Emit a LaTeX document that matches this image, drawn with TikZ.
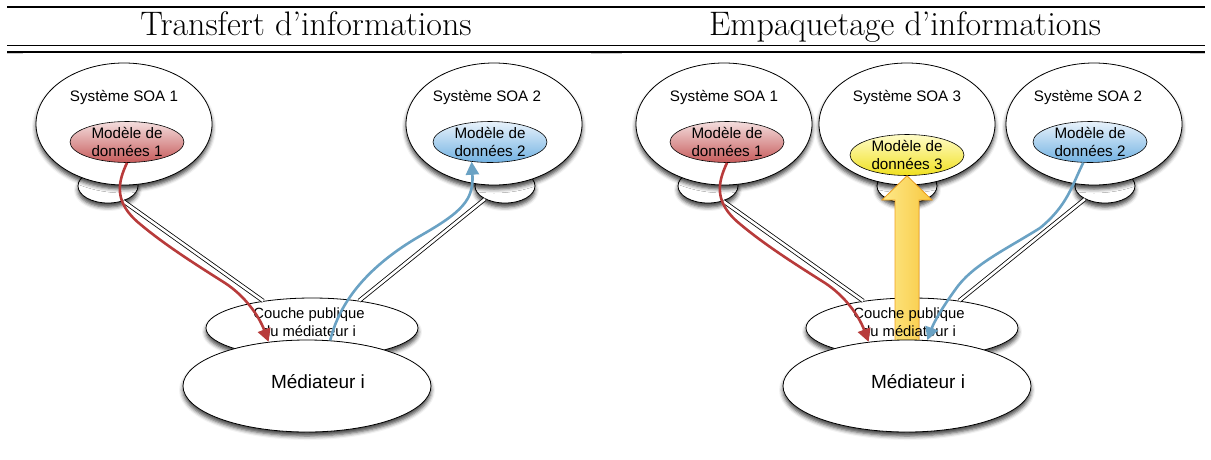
\documentclass[tikz,border=0pt]{standalone}
\usepackage{fontspec}
\newfontfamily\lab{Liberation Sans}
\usetikzlibrary{shapes.geometric,arrows.meta,shadows.blur}
\definecolor{redA}{HTML}{B83B3B}
\definecolor{blueA}{HTML}{6AA2C4}
\definecolor{redTop}{HTML}{F4DEDE}
\definecolor{redBot}{HTML}{C65A5A}
\definecolor{blueTop}{HTML}{E8F2FB}
\definecolor{blueBot}{HTML}{72B2E2}
\definecolor{yelTop}{HTML}{FFFCC8}
\definecolor{yelBot}{HTML}{F0E020}
\definecolor{arrL}{HTML}{FDE98A}
\definecolor{arrR}{HTML}{F8C840}
\definecolor{arrE}{HTML}{EFA020}
\tikzset{
  shd/.style={blur shadow={shadow xshift=0pt, shadow yshift=-4pt, shadow blur radius=4pt, shadow opacity=75}},
  big/.style={ellipse, draw=black, line width=0.8pt, fill=white, minimum width=176pt, minimum height=122pt, inner sep=0pt, shd},
  bump/.style={ellipse, draw=black, line width=0.8pt, fill=white, minimum width=60pt, minimum height=34pt, inner sep=0pt, shd},
  model/.style={ellipse, draw=black, line width=0.6pt, minimum width=114pt, minimum height=41pt, inner sep=0pt, align=center, font=\lab\fontsize{15.2}{17.5}\selectfont},
  redm/.style={model, top color=redTop, bottom color=redBot},
  bluem/.style={model, top color=blueTop, bottom color=blueBot},
  yelm/.style={model, top color=yelTop, bottom color=yelBot},
  title/.style={font=\lab\fontsize{15.2}{17.5}\selectfont, inner sep=0pt},
  couche/.style={ellipse, draw=black, line width=0.8pt, fill=white, minimum width=212pt, minimum height=60pt, inner sep=0pt, shd},
  med/.style={ellipse, draw=black, line width=0.8pt, fill=white, minimum width=248pt, minimum height=92pt, inner sep=0pt, shd},
  dl/.style={draw=black, line width=0.8pt, double=white, double distance=2.6pt},
  redc/.style={draw=redA, line width=2.6pt, -{Triangle[length=13pt,width=13pt]}},
  bluec/.style={draw=blueA, line width=2.6pt, -{Triangle[length=13pt,width=13pt]}},
  rule/.style={line width=1.2pt},
  head/.style={font=\fontsize{34}{40}\selectfont, inner sep=0pt, anchor=base}
}
\begin{document}
\begin{tikzpicture}[x=1pt,y=-1pt]
\useasboundingbox (0,0) rectangle (1211,459);
% header
\draw[rule] (7,7) -- (1205,7);
\draw[rule] (7,45.5) -- (1205,45.5);
\draw[rule] (7,52) -- (1205,52);
\draw[gray!40, line width=0.8pt] (7,53.5) -- (23,53.5) (591,53.5) -- (622,53.5) (1190,53.5) -- (1205,53.5);
\node[head] (h1) at (306,35) {Transfert d'informations};
\node[head] (h2) at (905,35) {Empaquetage d'informations};

% ---------- left panel ----------
\node[bump] (b1) at (108,186) {};
\node[big] (s1) at (124,124) {};
\node[title] (t1) at (124,97) {Système SOA 1};
\node[redm] (m1) at (127,142) {Modèle de\\données 1};

\node[bump] (b2) at (505,186) {};
\node[big] (s2) at (494,124) {};
\node[title] (t2) at (487,97) {Système SOA 2};
\node[bluem] (m2) at (490,142) {Modèle de\\données 2};

\node[couche] (c1) at (312,328) {};
\draw[dl] (b1.-45) -- (c1.151);
\draw[dl] (b2.213) -- (c1.30);
\node[title, align=center, font=\lab\fontsize{14.8}{18}\selectfont] (ct1) at (309,322) {Couche publique\\du médiateur i};
\node[med] (md1) at (307,386) {};
\node[font=\lab\fontsize{19}{22}\selectfont, inner sep=0pt] (mt1) at (318,382) {Médiateur i};

\draw[redc] (m1.south) .. controls (118,182) and (113,202) .. (140,224) .. controls (165,245) and (195,264) .. (225,283) .. controls (245,296) and (259,316) .. (md1.131);
\draw[bluec] (md1.63) .. controls (340,300) and (370,265) .. (420,236) .. controls (462,212) and (474,200) .. (m2.227);

% ---------- right panel ----------
\node[bump] (rb1) at (708,186) {};
\node[big] (rs1) at (724,124) {};
\node[title] (rt1) at (724,97) {Système SOA 1};
\node[redm] (rm1) at (727,142) {Modèle de\\données 1};

\node[bump] (rb3) at (907,186) {};
\node[big] (rs3) at (907,124) {};
\node[title] (rt3) at (907,97) {Système SOA 3};
\node[yelm] (rm3) at (907,155) {Modèle de\\données 3};

\node[bump] (rb2) at (1105,186) {};
\node[big] (rs2) at (1094,124) {};
\node[title] (rt2) at (1088,97) {Système SOA 2};
\node[bluem] (rm2) at (1090,142) {Modèle de\\données 2};

\node[couche] (c2) at (912,328) {};
\draw[dl] (rb1.-45) -- (c2.151);
\draw[dl] (rb2.213) -- (c2.30);
\filldraw[draw=arrE, line width=0.8pt, left color=arrL, right color=arrR]
  (895,342) -- (895,200) -- (882,200) -- (rm3.south) -- (932,200) -- (919,200) -- (919,342) -- cycle;
\node[title, align=center, font=\lab\fontsize{14.8}{18}\selectfont] (ct2) at (909,322) {Couche publique\\du médiateur i};
\node[med] (md2) at (907,386) {};
\node[font=\lab\fontsize{19}{22}\selectfont, inner sep=0pt] (mt2) at (918,382) {Médiateur i};

\draw[redc] (rm1.south) .. controls (718,182) and (713,202) .. (740,224) .. controls (765,245) and (795,264) .. (825,283) .. controls (845,296) and (859,316) .. (md2.131);
\draw[bluec] (rm2.252) .. controls (1072,185) and (1068,205) .. (1040,228) .. controls (1005,250) and (972,265) .. (955,290) .. controls (942,308) and (934,322) .. (md2.66);
\end{tikzpicture}
\end{document}
